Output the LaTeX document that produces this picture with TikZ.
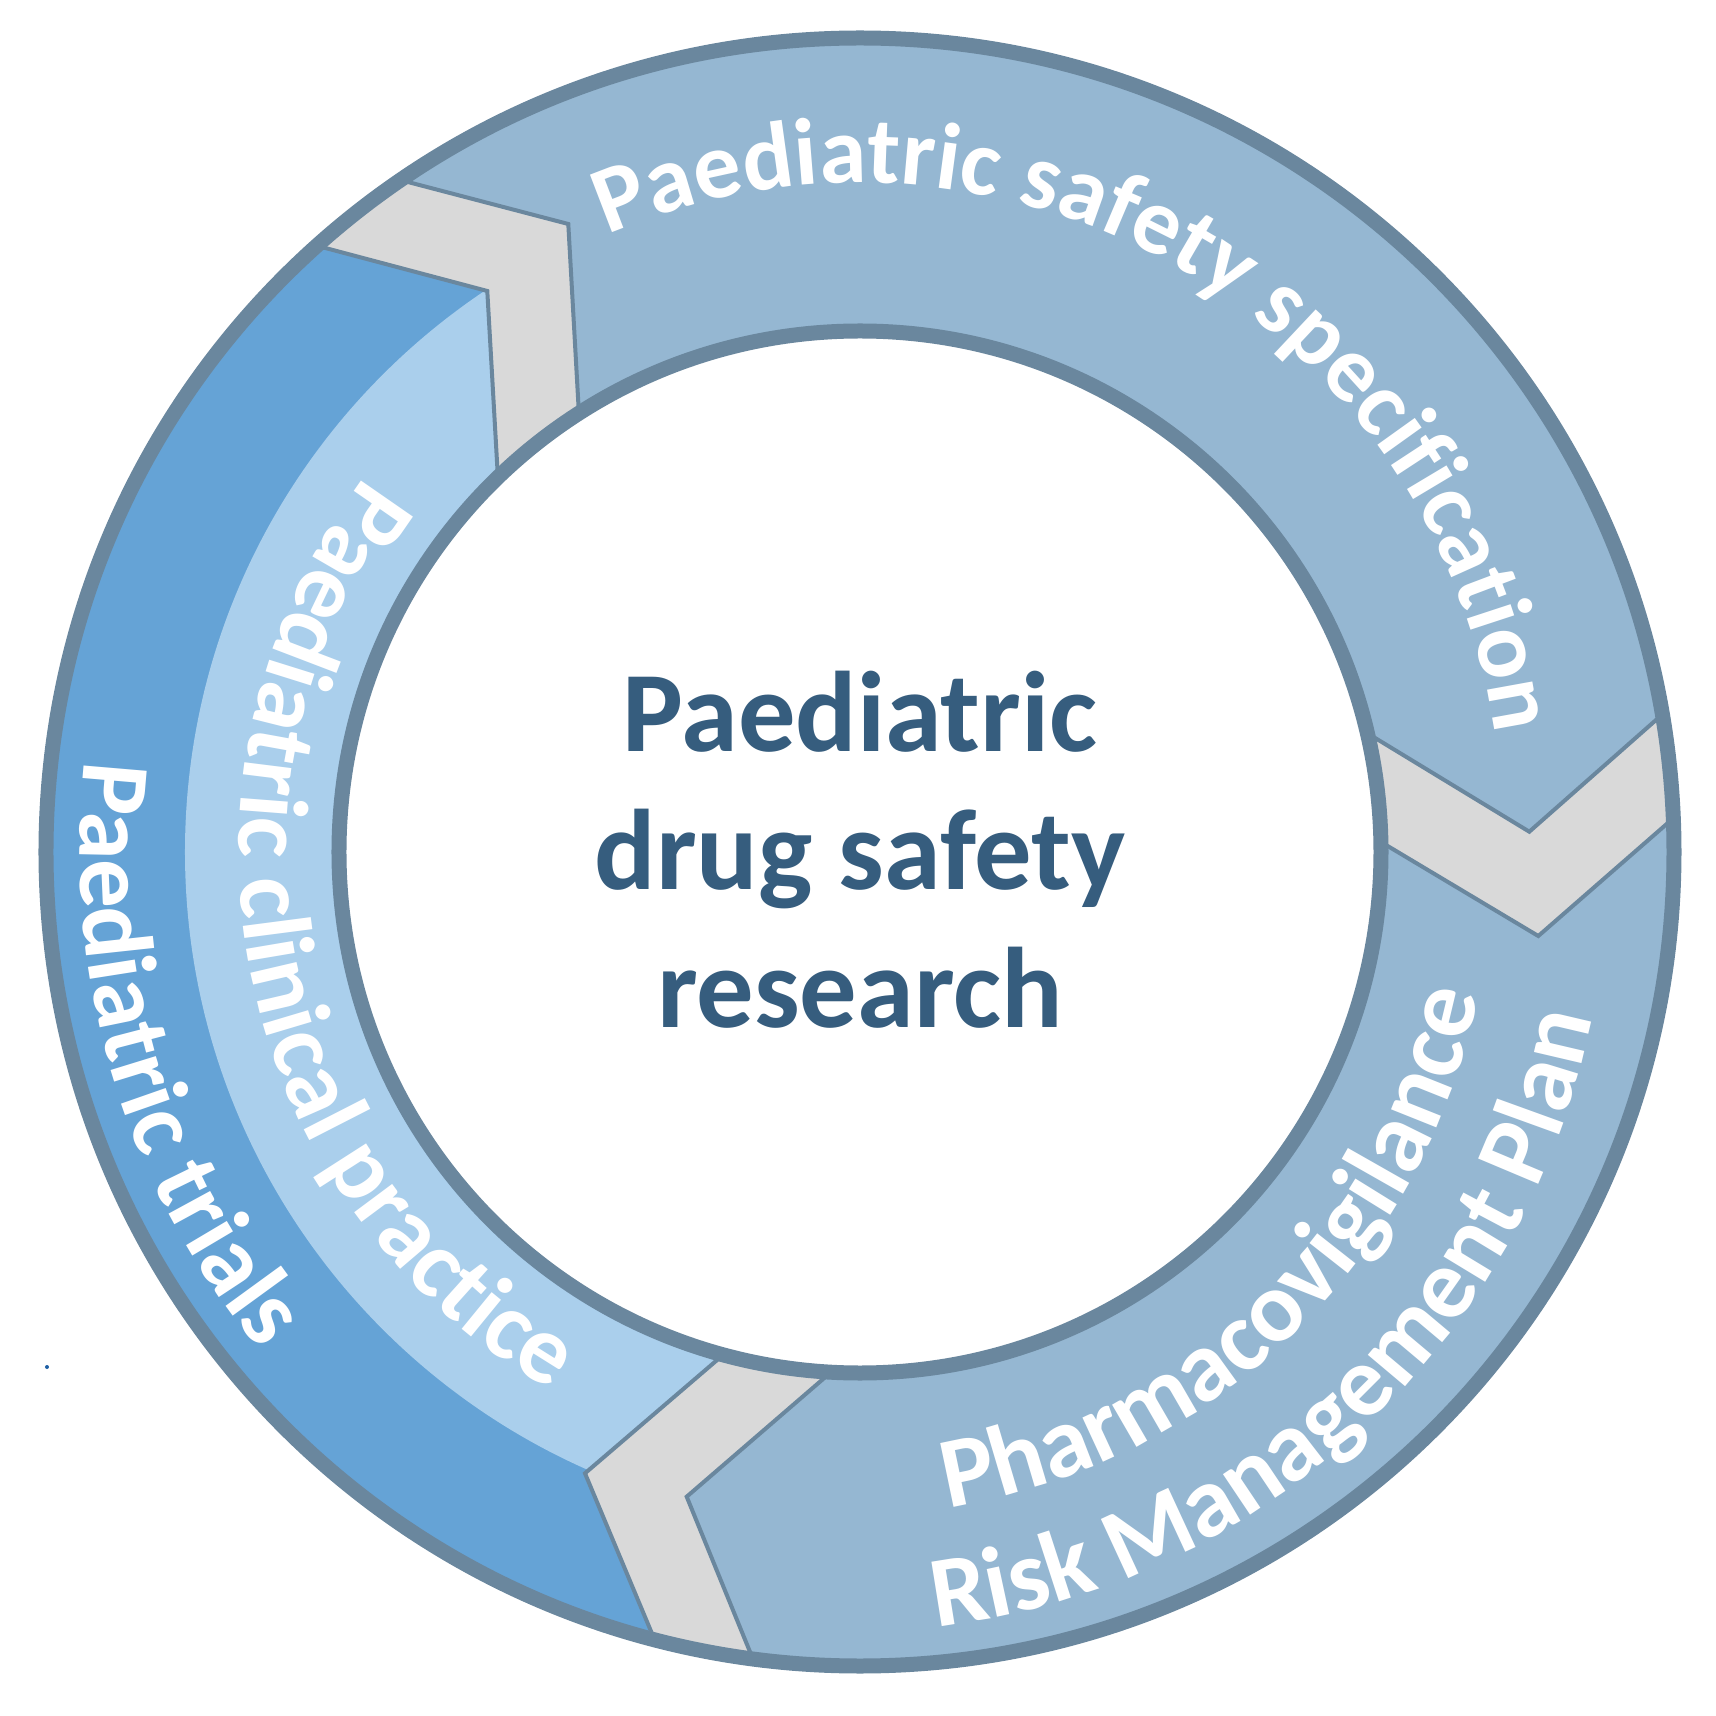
\documentclass[tikz,border=0pt]{standalone}
\usepackage{fontspec}
\setmainfont{Carlito}
\usetikzlibrary{calc,decorations.text}
\definecolor{ringline}{RGB}{106,135,158}
\definecolor{segblue}{RGB}{149,183,210}
\definecolor{trialblue}{RGB}{101,163,214}
\definecolor{practiceblue}{RGB}{170,207,236}
\definecolor{gapgrey}{RGB}{217,217,217}
\definecolor{titleblue}{RGB}{54,93,126}
\definecolor{dotblue}{RGB}{30,95,165}
\newcommand{\ringfont}{\fontsize{27.8}{33}\selectfont\bfseries}
\newcommand{\topfont}{\fontsize{27}{33}\selectfont\bfseries}
\newcommand{\planfont}{\fontsize{28.6}{33}\selectfont\bfseries}
\begin{document}
\begin{tikzpicture}[x=0.1mm,y=0.1mm]
\tikzstyle{ring}=[draw=ringline,line width=1.5mm]
\tikzstyle{chevron}=[draw=ringline,line width=0.4mm]
\tikzstyle{ringtext}=[decorate,decoration={text along path,text align=center,text color=white}]
\useasboundingbox (-860,-864) rectangle (856,852);
% corners of the three grey chevrons
\coordinate (a1) at (-453.3,670.3);
\coordinate (a2) at (-291.7,628);
\coordinate (a3) at (-281.7,449.7);
\coordinate (b1) at (-537.3,604.7);
\coordinate (b2) at (-372.7,561);
\coordinate (b3) at (-362.7,385.3);
\coordinate (c1) at (796,132);
\coordinate (c2) at (669.3,20.3);
\coordinate (c3) at (514,114.7);
\coordinate (d1) at (806.7,28);
\coordinate (d2) at (678.3,-84);
\coordinate (d3) at (526,7);
\coordinate (e1) at (-206.7,-784.7);
\coordinate (e2) at (-275,-621.3);
\coordinate (e3) at (-146.7,-511.3);
\coordinate (f1) at (-108.3,-804);
\coordinate (f2) at (-173.3,-644.7);
\coordinate (f3) at (-40,-529.7);
\begin{scope}
\clip (0,0) circle (814);
\fill[gapgrey] (0,0) circle (814);
% top segment
\fill[segblue] ($(a2)!2!(a1)$) -- (100:1000) -- (60:1000) -- (20:1000) -- ($(c2)!2!(c1)$) -- (c2) -- ($(c2)!2!(c3)$) -- (0,0) -- ($(a2)!2!(a3)$) -- (a2) -- cycle;
% right segment
\fill[segblue] ($(d2)!2!(d1)$) -- (d2) -- ($(d2)!2!(d3)$) -- (0,0) -- ($(f2)!2!(f3)$) -- (f2) -- ($(f2)!2!(f1)$) -- (300:1000) -- (330:1000) -- (0:1000) -- cycle;
% left segment, two bands
\begin{scope}
\clip ($(b2)!2!(b1)$) -- (b2) -- ($(b2)!2!(b3)$) -- (0,0) -- ($(e2)!2!(e3)$) -- (e2) -- ($(e2)!2!(e1)$) -- (220:1000) -- (180:1000) -- (140:1000) -- cycle;
\fill[trialblue] (0,0) circle (900);
\fill[practiceblue] (0,0) circle (675);
\end{scope}
\draw[chevron] ($(a2)!2!(a1)$) -- (a2) -- ($(a2)!2!(a3)$);
\draw[chevron] ($(b2)!2!(b1)$) -- (b2) -- ($(b2)!2!(b3)$);
\draw[chevron] ($(c2)!2!(c1)$) -- (c2) -- ($(c2)!2!(c3)$);
\draw[chevron] ($(d2)!2!(d1)$) -- (d2) -- ($(d2)!2!(d3)$);
\draw[chevron] ($(e2)!2!(e1)$) -- (e2) -- ($(e2)!2!(e3)$);
\draw[chevron] ($(f2)!2!(f1)$) -- (f2) -- ($(f2)!2!(f3)$);
\end{scope}
\draw[ring] (0,0) circle (814);
\draw[ring,fill=white] (0,0) circle (521);
% texts on the ring
\path[ringtext,decoration={text={|\topfont|Paediatric safety specification}}] ([shift={(120.6:641)}]0,28) arc[start angle=120.6,end angle=0.6,radius=641];
\path[ringtext,decoration={text={|\ringfont|Paediatric trials}}] (159.5:780) arc[start angle=159.5,end angle=233.5,radius=780];
\path[ringtext,decoration={text={|\ringfont|Paediatric clinical practice}}] (134.5:621) arc[start angle=134.5,end angle=248.5,radius=621];
\path[ringtext,decoration={text={|\planfont|Pharmacovigilance}}] ([shift={(-91:649)}]-18,-16) arc[start angle=-91,end angle=-0.8,radius=649];
\path[ringtext,decoration={text={|\planfont|Risk Management Plan}}] ([shift={(-92:765)}]-18,-16) arc[start angle=-92,end angle=-2.2,radius=765];
\node[align=center,text=titleblue,font=\fontsize{32.6}{39.3}\selectfont\bfseries] (title) at (0,2) {Paediatric\\drug safety\\research};
\fill[dotblue] (-813,-515) circle (2);
\end{tikzpicture}
\end{document}
